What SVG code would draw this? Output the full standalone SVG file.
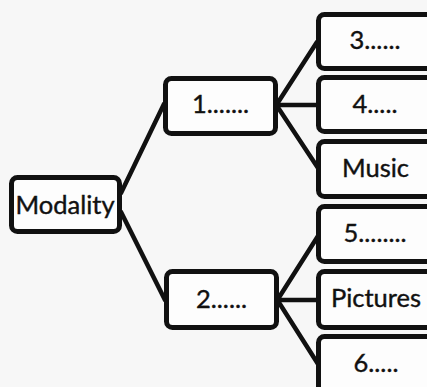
<svg xmlns="http://www.w3.org/2000/svg" width="427" height="387" viewBox="0 0 427 387">
<style>
.box{fill:#fdfdfd;stroke:#111;stroke-width:5}
.lbl{font-family:Lato,"Liberation Sans",sans-serif;font-size:25.5px;fill:#111;stroke:#111;stroke-width:0.4;text-anchor:middle}
.con{stroke:#111;stroke-width:4.5;fill:none;stroke-linecap:round}
</style>
<rect width="427" height="387" fill="#f7f7f7"/>
<g id="connectors">
<line class="con" x1="121" y1="193" x2="164" y2="104"/>
<line class="con" x1="121" y1="212" x2="165" y2="300"/>
<line class="con" x1="277" y1="104" x2="317" y2="42"/>
<line class="con" x1="277" y1="105" x2="317" y2="105"/>
<line class="con" x1="277" y1="106" x2="318" y2="168"/>
<line class="con" x1="278" y1="299" x2="318" y2="236"/>
<line class="con" x1="278" y1="300" x2="318" y2="300"/>
<line class="con" x1="278" y1="301" x2="318" y2="364"/>
</g>
<g id="modality"><rect class="box" x="11.5" y="177.5" width="108" height="54" rx="6"/><text class="lbl" x="65" y="214">Modality</text></g>
<g id="n1"><rect class="box" x="165.5" y="78.5" width="110" height="55" rx="6"/><text class="lbl" x="220.5" y="113">1.......</text></g>
<g id="n2"><rect class="box" x="166.5" y="271.5" width="110" height="56" rx="6"/><text class="lbl" x="221.5" y="308">2......</text></g>
<g id="n3"><rect class="box" x="318.5" y="14.5" width="120" height="54" rx="6"/><text class="lbl" x="375" y="49">3......</text></g>
<g id="n4"><rect class="box" x="318.5" y="77.5" width="120" height="54" rx="6"/><text class="lbl" x="375" y="113">4.....</text></g>
<g id="music"><rect class="box" x="318.5" y="141.5" width="120" height="55" rx="6"/><text class="lbl" x="375.5" y="177">Music</text></g>
<g id="n5"><rect class="box" x="318.5" y="206.5" width="120" height="55" rx="6"/><text class="lbl" x="375" y="242">5........</text></g>
<g id="pictures"><rect class="box" x="318.5" y="271.5" width="120" height="56" rx="6"/><text class="lbl" x="376" y="307">Pictures</text></g>
<g id="n6"><rect class="box" x="318.5" y="336.5" width="120" height="80" rx="6"/><text class="lbl" x="376" y="372">6.....</text></g>
</svg>
